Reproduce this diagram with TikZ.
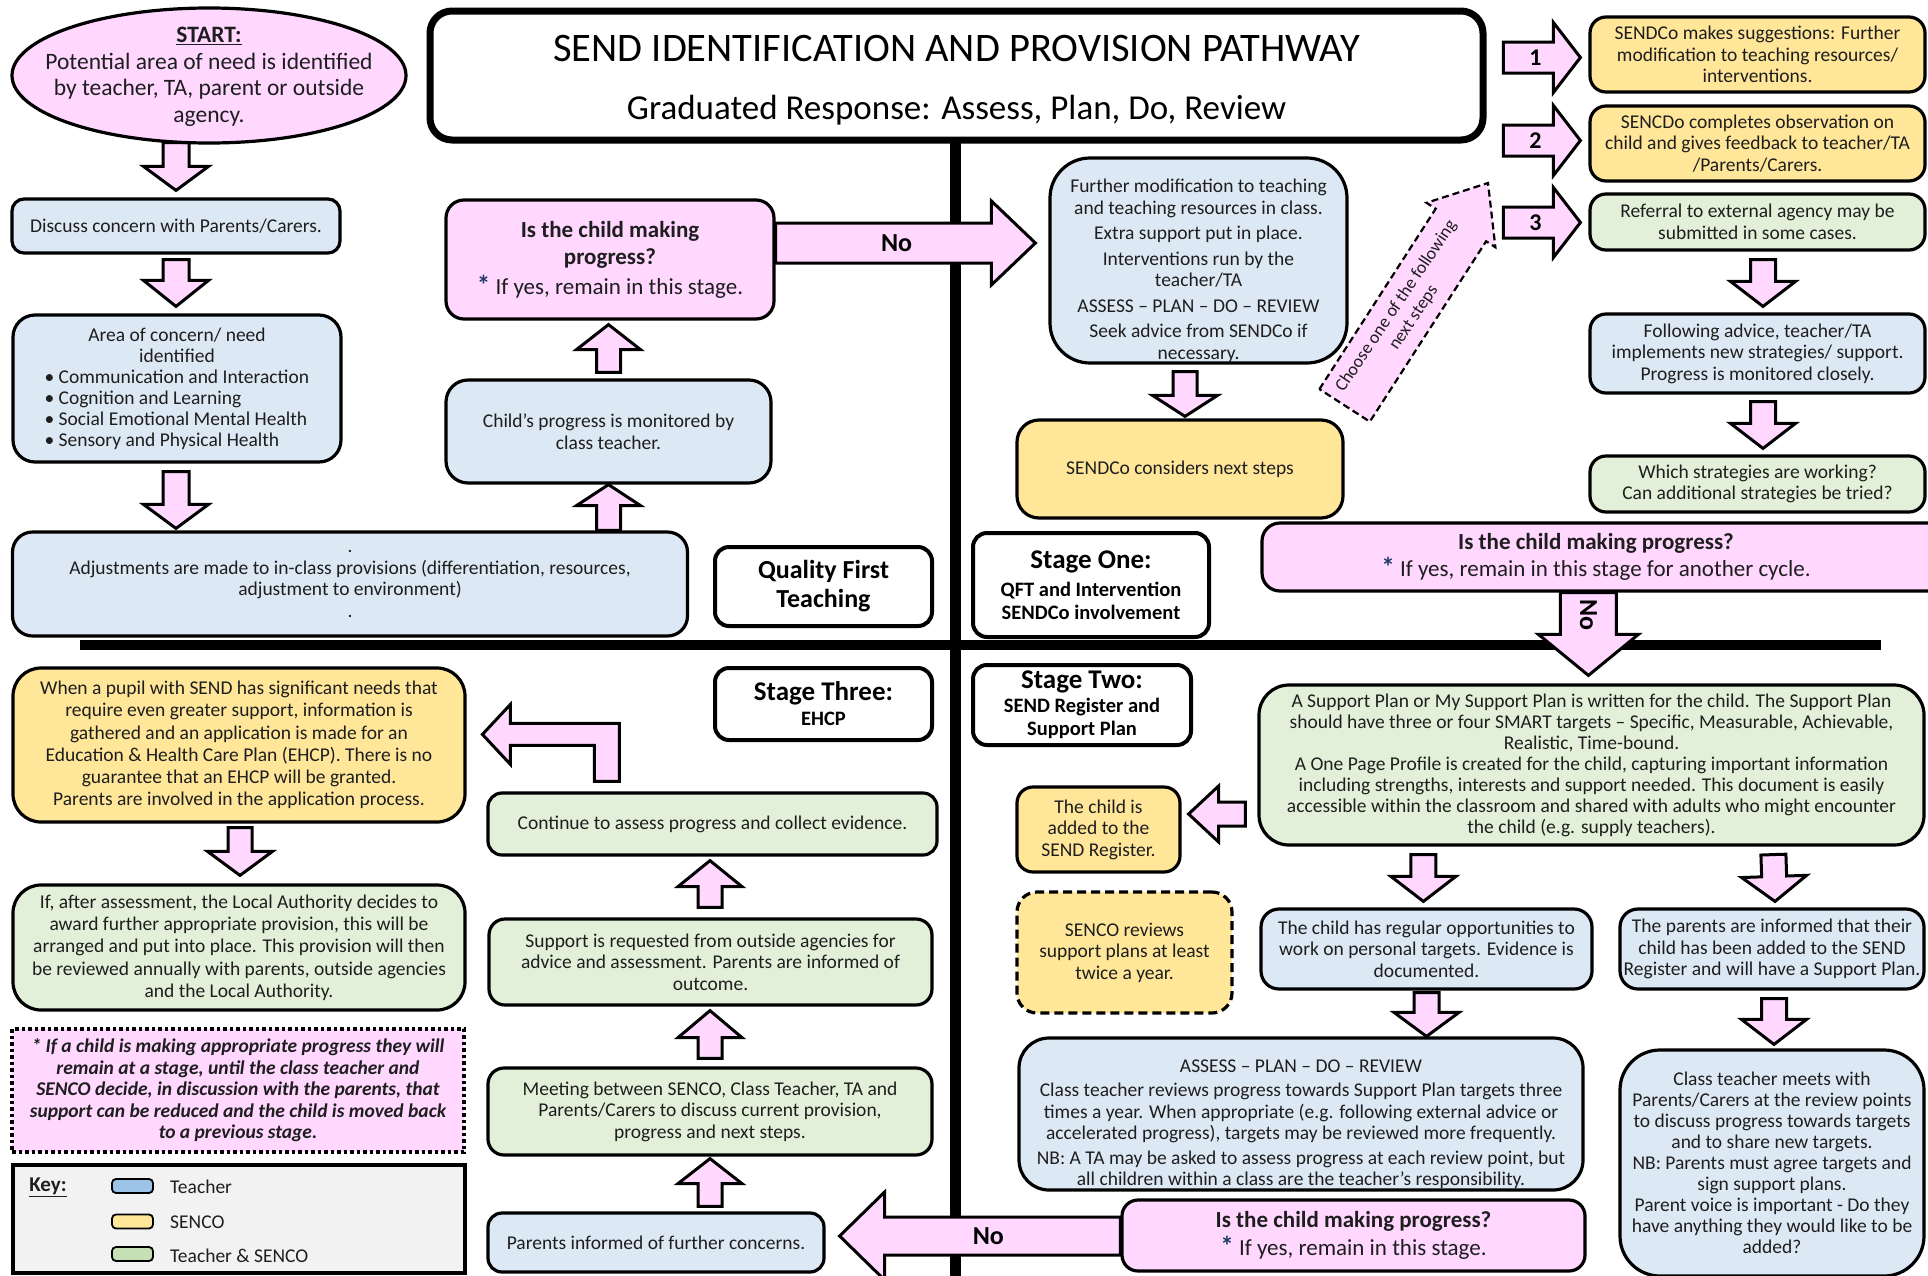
\documentclass[tikz,border=0pt]{standalone}
\usepackage{fontspec}
\setmainfont{Carlito}
\usetikzlibrary{calc,shapes.geometric}
\definecolor{pinkF}{HTML}{FFD7FF}
\definecolor{blueF}{HTML}{DDE8F5}
\definecolor{yellowF}{HTML}{FFE699}
\definecolor{greenF}{HTML}{E2F0D9}
\definecolor{keyBlue}{HTML}{9DC3E6}
\definecolor{keyGreen}{HTML}{C5E0B4}
\definecolor{keyBg}{HTML}{F2F2F2}
\definecolor{txt}{HTML}{1E1E1E}
\definecolor{starC}{HTML}{1F3864}
\pgfdeclarelayer{bg}
\pgfdeclarelayer{arr}
\pgfsetlayers{bg,arr,main}
\newcommand\bodyfont{\fontsize{19.5}{21.5}\selectfont}
\newcommand\qfont{\fontsize{23}{27}\selectfont}
\newcommand\ehfont{\fontsize{19.5}{22.3}\selectfont}
\newcommand\starmark{{\color{starC}\bfseries\fontsize{27}{27}\selectfont *}}
\newcommand\mybox[7]{\node[#1, minimum width=#5pt, minimum height=#6pt] (#2) at (#3,#4) {#7};}
\newcommand\blkarrow[6][]{%
  \coordinate (bS) at #2;
  \coordinate (bE) at #3;
  \coordinate (bH) at ($(bE)!#6!(bS)$);
  \draw[blockarrow,#1] ($(bS)!#4!90:(bE)$) -- ($(bH)!#4!-90:(bS)$) -- ($(bH)!#5!-90:(bS)$) -- (bE) -- ($(bH)!#5!90:(bS)$) -- ($(bH)!#4!90:(bS)$) -- ($(bS)!#4!-90:(bE)$) -- cycle;}
\begin{document}
\begin{tikzpicture}[x=1pt,y=-1pt,
  base/.style={draw=black, line width=3.2pt, align=center, inner sep=0pt, text=txt, font=\bodyfont},
  bluebox/.style={base, fill=blueF, rounded corners=#1}, bluebox/.default=14pt,
  yellowbox/.style={base, fill=yellowF, rounded corners=#1}, yellowbox/.default=14pt,
  greenbox/.style={base, fill=greenF, rounded corners=#1}, greenbox/.default=14pt,
  pinkbox/.style={base, fill=pinkF, rounded corners=#1}, pinkbox/.default=14pt,
  stagebox/.style={draw=black, line width=4pt, rounded corners=14pt, fill=white, align=center, inner sep=0pt, text=black, font=\fontsize{20.5}{23}\selectfont\bfseries},
  blockarrow/.style={draw=black, fill=pinkF, line width=3pt, line join=miter},
  lbl/.style={font=\fontsize{26}{28}\selectfont\bfseries, text=black, inner sep=0pt},
  txtnode/.style={align=center, text=txt, inner sep=0pt},
]
\begin{pgfonlayer}{bg}
\fill[white] (0,0) rectangle (1928,1275);
\end{pgfonlayer}
\useasboundingbox (0,0) rectangle (1928,1275);

% ---------- title
\node[draw=black, line width=7pt, rounded corners=22pt, fill=white, inner sep=0pt,
  minimum width=1053pt, minimum height=129pt] (title) at (956.5,75.5) {};
\node[align=center, inner sep=0pt, text=black, font=\fontsize{35}{42}\selectfont] (titleT) at (956.5,80)
  {{\fontsize{40.5}{42}\selectfont SEND IDENTIFICATION AND PROVISION PATHWAY}\\[16pt]Graduated Response: Assess, Plan, Do, Review};

% ---------- left column, top half
\node[draw=black, line width=3.2pt, fill=pinkF, ellipse, minimum width=394pt, minimum height=135pt, inner sep=0pt] (start) at (209,75.5) {};
\node[txtnode, font=\fontsize{23.5}{26.5}\selectfont] (startT) at (209,77) {\underline{\textbf{START:}}\\Potential area of need is identified\\by teacher, TA, parent or outside\\agency.};
\mybox{bluebox=12pt}{disc}{176}{226}{328}{54}{Discuss concern with Parents/Carers.}
\mybox{bluebox=22pt, font=\fontsize{19.5}{21}\selectfont}{area}{177}{388.5}{328}{147}{Area of concern/ need\\identified\\\makebox[265pt][l]{• Communication and Interaction}\\\makebox[265pt][l]{• Cognition and Learning}\\\makebox[265pt][l]{• Social Emotional Mental Health}\\\makebox[265pt][l]{• Sensory and Physical Health}}
\mybox{bluebox=20pt}{adj}{350}{584}{675}{104}{.\\Adjustments are made to in-class provisions (differentiation, resources,\\adjustment to environment)\\.}
\mybox{bluebox=22pt}{prog}{608.5}{431.5}{325}{103}{Child’s progress is monitored by\\class teacher.}
\mybox{pinkbox=18pt, font=\qfont}{q1}{610}{259.5}{328}{119}{\textbf{Is the child making}\\\textbf{progress?}\\[3pt]\starmark\ If yes, remain in this stage.}

% ---------- centre top
\mybox{bluebox=40pt}{fm}{1198.5}{260.5}{297}{205}{}
\node[txtnode, font=\bodyfont] (fmT) at (1198.5,271) {Further modification to teaching\\and teaching resources in class.\\[4pt]Extra support put in place.\\[4pt]Interventions run by the\\teacher/TA\\[4pt]ASSESS – PLAN – DO – REVIEW\\[4pt]Seek advice from SENDCo if\\necessary.};
\mybox{yellowbox=22pt}{sc}{1180}{469}{326}{98}{SENDCo considers next steps}
\coordinate (dtip) at (1488,183);

% ---------- right column top
\mybox{yellowbox=16pt}{r1}{1757.5}{54.5}{335}{75}{SENDCo makes suggestions: Further\\modification to teaching resources/\\interventions.}
\mybox{yellowbox=16pt}{r2}{1757.5}{143.5}{335}{75}{SENCDo completes observation on\\child and gives feedback to teacher/TA\\/Parents/Carers.}
\mybox{greenbox=16pt}{r3}{1757.5}{222}{335}{56}{Referral to external agency may be\\submitted in some cases.}
\mybox{bluebox=16pt}{r4}{1757.5}{353.5}{335}{79}{Following advice, teacher/TA\\implements new strategies/ support.\\Progress is monitored closely.}
\mybox{greenbox=16pt}{r5}{1757.5}{484}{335}{56}{Which strategies are working?\\Can additional strategies be tried?}
\mybox{pinkbox=18pt}{q2}{1603.5}{557}{683}{68}{}
\node[txtnode, font=\qfont] (q2T) at (1596,557) {\textbf{Is the child making progress?}\\\starmark\ If yes, remain in this stage for another cycle.};

% ---------- stage labels
\node[stagebox, font=\fontsize{26}{29}\selectfont\bfseries, minimum width=217pt, minimum height=79pt] (qft) at (823.5,586.5) {Quality First\\Teaching};
\node[stagebox, minimum width=236pt, minimum height=104pt] (s1) at (1091,585) {{\fontsize{27}{30}\selectfont Stage One:}\\[5pt]QFT and Intervention\\SENDCo involvement};
\node[stagebox, minimum width=218pt, minimum height=80pt] (s2) at (1082,705) {{\fontsize{27}{30}\selectfont Stage Two:}\\[1pt]SEND Register and\\Support Plan};
\node[stagebox, minimum width=217pt, minimum height=72pt] (s3) at (823.5,704) {{\fontsize{27}{30}\selectfont Stage Three:}\\[2pt]EHCP};

% ---------- left column bottom
\mybox{yellowbox=28pt, font=\ehfont}{ehcp}{239}{745}{452}{154}{When a pupil with SEND has significant needs that\\require even greater support, information is\\gathered and an application is made for an\\Education \& Health Care Plan (EHCP). There is no\\guarantee that an EHCP will be granted.\\Parents are involved in the application process.}
\mybox{greenbox=28pt, font=\ehfont}{la}{239}{947.5}{452}{125}{If, after assessment, the Local Authority decides to\\award further appropriate provision, this will be\\arranged and put into place. This provision will then\\be reviewed annually with parents, outside agencies\\and the Local Authority.}
\mybox{base, fill=pinkF, line width=3.5pt, dash pattern=on 3.5pt off 3pt, font=\fontsize{19.5}{21.5}\selectfont\bfseries\itshape}{note}{238}{1090.5}{452}{123}{* If a child is making appropriate progress they will\\remain at a stage, until the class teacher and\\SENCO decide, in discussion with the parents, that\\support can be reduced and the child is moved back\\to a previous stage.}
\mybox{base, fill=keyBg, line width=3.5pt}{key}{239}{1219}{452}{108}{}
\node[txtnode, font=\fontsize{21}{23}\selectfont\bfseries] (keyT) at (48,1187) {\underline{Key:}};
\node[draw=black, line width=1.8pt, fill=keyBlue, rounded corners=4pt, minimum width=41pt, minimum height=14pt, inner sep=0pt] (kb) at (132.5,1186) {};
\node[draw=black, line width=1.8pt, fill=yellowF, rounded corners=4pt, minimum width=41pt, minimum height=14pt, inner sep=0pt] (ky) at (132.5,1221.5) {};
\node[draw=black, line width=1.8pt, fill=keyGreen, rounded corners=4pt, minimum width=41pt, minimum height=14pt, inner sep=0pt] (kg) at (132.5,1254) {};
\node[txtnode, anchor=west, font=\bodyfont] (kbT) at (170,1187) {Teacher};
\node[txtnode, anchor=west, font=\bodyfont] (kyT) at (170,1222) {SENCO};
\node[txtnode, anchor=west, font=\bodyfont] (kgT) at (170,1256) {Teacher \& SENCO};

% ---------- stage three column
\mybox{greenbox=14pt}{cont}{712.5}{824}{449}{62}{Continue to assess progress and collect evidence.}
\mybox{greenbox=16pt}{supp}{710.5}{962}{443}{86}{Support is requested from outside agencies for\\advice and assessment. Parents are informed of\\outcome.}
\mybox{greenbox=16pt}{meet}{710}{1111.5}{444}{87}{Meeting between SENCO, Class Teacher, TA and\\Parents/Carers to discuss current provision,\\progress and next steps.}
\mybox{bluebox=14pt}{pinf}{656}{1242.5}{336}{59}{Parents informed of further concerns.}

% ---------- stage two column
\mybox{yellowbox=16pt}{added}{1098.5}{829.5}{163}{85}{The child is\\added to the\\SEND Register.}
\mybox{yellowbox=20pt, dash pattern=on 9pt off 5pt}{review}{1124.5}{952.5}{215}{121}{SENCO reviews\\support plans at least\\twice a year.}
\mybox{greenbox=30pt, font=\fontsize{19.5}{21}\selectfont}{sp}{1591.5}{765}{665}{160}{A Support Plan or My Support Plan is written for the child. The Support Plan\\should have three or four SMART targets – Specific, Measurable, Achievable,\\Realistic, Time-bound.\\A One Page Profile is created for the child, capturing important information\\including strengths, interests and support needed. This document is easily\\accessible within the classroom and shared with adults who might encounter\\the child (e.g. supply teachers).}
\mybox{bluebox=18pt}{reg}{1426.5}{949}{331}{80}{The child has regular opportunities to\\work on personal targets. Evidence is\\documented.}
\mybox{bluebox=18pt}{par}{1772}{949}{304}{80}{The parents are informed that their\\child has been added to the SEND\\Register and will have a Support Plan.}
\mybox{bluebox=30pt}{ass}{1301}{1114}{564}{152}{}
\node[txtnode, font=\bodyfont] (assT) at (1301,1124) {ASSESS – PLAN – DO – REVIEW\\[3pt]Class teacher reviews progress towards Support Plan targets three\\times a year. When appropriate (e.g. following external advice or\\accelerated progress), targets may be reviewed more frequently.\\[3pt]NB: A TA may be asked to assess progress at each review point, but\\all children within a class are the teacher’s responsibility.};
\mybox{pinkbox=16pt, font=\fontsize{23}{27}\selectfont}{q3}{1353.5}{1235.5}{463}{71}{\textbf{Is the child making progress?}\\[1pt]\starmark\ If yes, remain in this stage.}
\mybox{bluebox=40pt, font=\fontsize{19.5}{21}\selectfont}{ctm}{1772}{1163}{304}{226}{Class teacher meets with\\Parents/Carers at the review points\\to discuss progress towards targets\\and to share new targets.\\NB: Parents must agree targets and\\sign support plans.\\Parent voice is important - Do they\\have anything they would like to be\\added?}

% ---------- arrow labels
\node[lbl] (noA) at ($(q1.east)+(121,-16.5)$) {No};
\node[lbl, rotate=-90] (noB) at ($(q2.south west)+(328,22)$) {No};
\node[lbl] (noC) at ($(q3.west)+(-132,0.5)$) {No};
\node[lbl, font=\fontsize{24}{26}\selectfont\bfseries] (n1l) at ($(r1.west)+(-53,3)$) {1};
\node[lbl, font=\fontsize{24}{26}\selectfont\bfseries] (n2l) at ($(r2.west)+(-53,-3)$) {2};
\node[lbl, font=\fontsize{24}{26}\selectfont\bfseries] (n3l) at ($(r3.west)+(-53,0.5)$) {3};
\node[txtnode, rotate=56, font=\fontsize{17.8}{21}\selectfont] (chooseT) at (1405,312) {Choose one of the following\\next steps};

% ---------- divider lines
\coordinate (vtop) at (955,135);
\coordinate (vbot) at (955,1280);
\coordinate (hlft) at (80,645);
\coordinate (hrgt) at (1881,645);
\begin{pgfonlayer}{bg}
\draw[line width=11pt] (vtop) -- (vbot);
\draw[line width=10pt] (hlft) -- (hrgt);
\end{pgfonlayer}

% ---------- block arrows
\begin{pgfonlayer}{arr}
\blkarrow{($(start.south -| disc.north)+(0,-2)$)}{($(disc.north)+(0,-7)$)}{13pt}{32.5pt}{24pt}
\blkarrow{($(disc.south)+(0,5)$)}{($(area.north -| disc.south)+(0,-7)$)}{13pt}{32.5pt}{26pt}
\blkarrow{($(area.south -| disc.south)+(0,8)$)}{($(adj.north -| disc.south)+(0,-2)$)}{13pt}{32.5pt}{24pt}
\blkarrow{(adj.north -| prog.south)}{(prog.south)}{12pt}{32pt}{21pt}
\blkarrow{($(prog.north)+(0,-6)$)}{($(q1.south -| prog.north)+(0,4)$)}{12pt}{32pt}{25pt}
\blkarrow{($(q1.east)+(0,-16.5)$)}{($(fm.west)+(-13,-17.5)$)}{20pt}{42pt}{44pt}
\blkarrow{($(fm.south)+(-13.5,7)$)}{($(sc.north)+(5,-2)$)}{12pt}{32.5pt}{21pt}
\blkarrow[dash pattern=on 7pt off 4pt, line width=2.2pt]{($(sc.north east)+(0,-13)$)}{(dtip)}{30pt}{41pt}{50pt}
\blkarrow{($(r1.west)+(-85,3)$)}{($(r1.west)+(-8,3)$)}{15.5pt}{35pt}{27pt}
\blkarrow{($(r2.west)+(-85,-3)$)}{($(r2.west)+(-8,-3)$)}{15.5pt}{35pt}{27pt}
\blkarrow{($(r3.west)+(-85,0.5)$)}{($(r3.west)+(-8,0.5)$)}{15.5pt}{35pt}{27pt}
\blkarrow{($(r3.south)+(5.5,8)$)}{($(r4.north)+(5.5,-6)$)}{12.5pt}{32.5pt}{25pt}
\blkarrow{($(r4.south)+(5.5,7)$)}{($(r5.north)+(5.5,-6)$)}{12.5pt}{32.5pt}{25pt}
\blkarrow{($(q2.south west)+(328,0)$)}{($(sp.north west)+(331,-8)$)}{28pt}{50pt}{41pt}
\blkarrow{($(sp.west)+(-12,49)$)}{($(added.east)+(7,-15.5)$)}{12pt}{28pt}{30pt}
\blkarrow{($(sp.south west)+(166,8)$)}{($(reg.north west)+(164,-6)$)}{12.5pt}{32.5pt}{25pt}
\blkarrow{($(sp.south west)+(516,8)$)}{($(par.north)+(3,-6)$)}{12.5pt}{32.5pt}{25pt}
\blkarrow{($(reg.south)+(0,2)$)}{(ass.north -| reg.south)}{12.5pt}{32.5pt}{24pt}
\blkarrow{($(par.south)+(2,8)$)}{($(ctm.north)+(2,-4)$)}{12.5pt}{32.5pt}{25pt}
\blkarrow{($(q3.west)+(0,0.5)$)}{($(pinf.east)+(14,-6.5)$)}{19pt}{44pt}{45pt}
\blkarrow{($(pinf.north -| meet.south)+(0,-5)$)}{($(meet.south)+(0,2)$)}{12pt}{32pt}{25pt}
\blkarrow{($(meet.north)+(0,-8)$)}{($(supp.south -| meet.north)+(0,4)$)}{12pt}{32pt}{27pt}
\blkarrow{($(supp.north -| meet.north)+(0,-10)$)}{($(cont.south -| meet.north)+(0,4)$)}{12pt}{32pt}{26pt}
\blkarrow{($(ehcp.south)+(1,4)$)}{($(la.north)+(1,-8)$)}{12pt}{32.5pt}{24pt}
\draw[blockarrow] ($(cont.north west)+(108,-10)$) -- ++(0,-36) -- ++(-84,0) -- ++(0,19) -- ++(-28,-30) -- ++(28,-30) -- ++(0,19) -- ++(109,0) -- ++(0,58) -- cycle;
\end{pgfonlayer}
\end{tikzpicture}
\end{document}
